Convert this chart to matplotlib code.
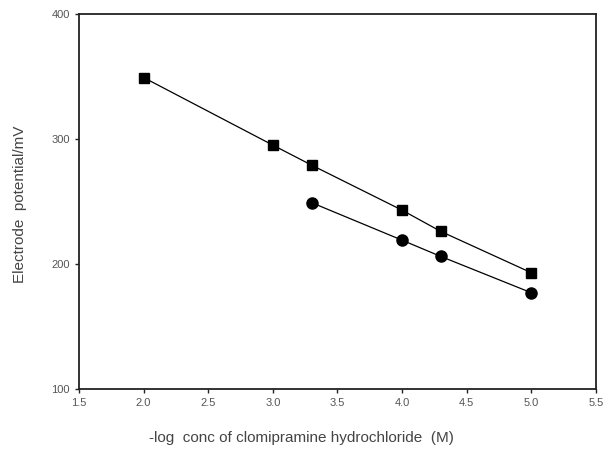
import matplotlib.pyplot as plt

plt.rcParams['font.family'] = ['Liberation Sans', 'DejaVu Sans']

conc = [2.0, 3.0, 3.3, 4.0, 4.3, 5.0]
potential_sq = [349, 295, 279, 243, 226, 193]
conc_circ = [3.3, 4.0, 4.3, 5.0]
potential_circ = [249, 219, 206, 177]

fig = plt.figure(figsize=(6.03, 4.51), dpi=100)
ax = fig.add_axes([0.131, 0.1375, 0.857, 0.832])

ax.plot(conc, potential_sq, '-', color='black', lw=0.9,
        marker='s', ms=6.5)
ax.plot(conc_circ, potential_circ, '-', color='black', lw=0.9,
        marker='o', ms=8)

ax.set_xlim(1.5, 5.5)
ax.set_ylim(100, 400)
ax.set_xticks([1.5, 2.0, 2.5, 3.0, 3.5, 4.0, 4.5, 5.0, 5.5])
ax.set_xticklabels(['1.5', '2.0', '2.5', '3.0', '3.5', '4.0', '4.5', '5.0', '5.5'])
ax.set_yticks([100, 200, 300, 400])

for s in ax.spines.values():
    s.set_linewidth(1.3)
    s.set_color('#222222')
ax.tick_params(direction='out', length=3, width=1, colors='#222222',
               labelsize=8, labelcolor='#555555')

# axis titles placed in figure pixels to match the original offset
fig.text(301 / 603, 1 - 438 / 451,
         '-log  conc of clomipramine hydrochloride  (M)', fontsize=11,
         color='#444444', ha='center', va='center')
fig.text(20 / 603, 1 - 204 / 451, 'Electrode  potential/mV', fontsize=11,
         color='#444444', ha='center', va='center', rotation=90)

fig.savefig('out.png', dpi=100)
